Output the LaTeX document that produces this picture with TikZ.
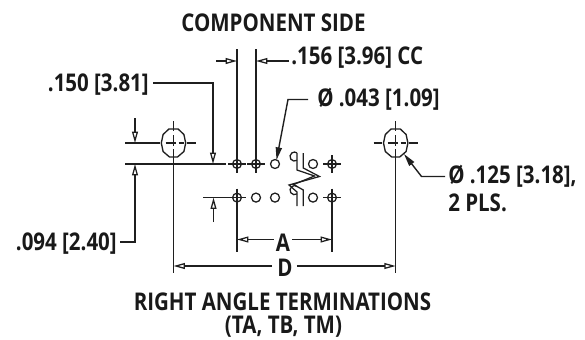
\documentclass[tikz,border=0pt]{standalone}
\usepackage{fontspec}
\setmainfont{Open Sans}[FakeStretch=0.84]
\usetikzlibrary{arrows.meta}
\tikzset{
 x=0.75pt,y=-0.75pt,
 dim/.style={line width=1.05pt,draw=black!88},
 thin line/.style={line width=0.95pt,draw=black!88},
 lab/.style={font=\fontsize{18.3}{20}\selectfont\bfseries,text=black!90,inner sep=0pt},
 hollow/.style={-{Triangle[open,length=8.5pt,width=4.4pt,line width=0.95pt]}},
 solid tip/.style={-{Triangle[length=9.5pt,width=4.6pt]}},
}
\newcommand{\padhole}[2]{%
 \draw[thin line] (#1,#2) circle[radius=4.4];
 \draw[thin line] (#1-9,#2)--(#1+9,#2) (#1,#2-9)--(#1,#2+9);}
\newcommand{\openhole}[2]{\draw[thin line] (#1,#2) circle[radius=4.5];}
\newcommand{\octhole}[2]{%
 \draw[line width=1pt,draw=black!88] (#1-4.6,#2-14)--(#1+4.6,#2-14)--(#1+10.4,#2-8.5)--(#1+12.2,#2)--(#1+10.4,#2+8.5)--(#1+4,#2+14)--(#1-4,#2+14)--(#1-10.4,#2+8.5)--(#1-12.2,#2)--(#1-10.4,#2-8.5)--cycle;
 \draw[thin line] (#1-22,#2)--(#1-14,#2) (#1-8,#2)--(#1+2,#2) (#1+5,#2)--(#1+10,#2) (#1+13,#2)--(#1+22,#2);
 \draw[thin line] (#1,#2-22)--(#1,#2-12) (#1,#2-8)--(#1,#2+3) (#1,#2+6)--(#1,#2+22);}
\begin{document}
\begin{tikzpicture}
\useasboundingbox (0,0) rectangle (585,339);
% text
\node[lab] (tTitle) at (273.5,22.5) {COMPONENT SIDE};
\node[lab,anchor=west] (t156) at (291,58) {.156 [3.96] CC};
\node[lab,anchor=east] (t150) at (149,85) {.150 [3.81]};
\node[lab,anchor=west] (t043) at (317,99.5) {Ø .043 [1.09]};
\node[lab,anchor=east] (t094) at (117,244) {.094 [2.40]};
\node[lab,anchor=west] (t125) at (448,176.5) {Ø .125 [3.18],};
\node[lab,anchor=west] (t2pls) at (448,203) {2 PLS.};
\node[lab] (tA) at (283,242.5) {A};
\node[lab] (tD) at (285,268) {D};
\node[lab] (tB1) at (282.5,302) {RIGHT ANGLE TERMINATIONS};
\node[lab] (tB2) at (283.5,327) {(TA, TB, TM)};
% holes
\octhole{173.5}{143}
\octhole{395.7}{143}
\padhole{237}{164}\padhole{256}{164}\openhole{275}{164}\openhole{313}{164}\padhole{332}{164}
\padhole{237}{197.6}\openhole{256}{197.6}\openhole{275}{197.6}\openhole{313}{197.6}\padhole{332}{197.6}
% cut-off holes
\draw[thin line] (297,160.3) arc[start angle=56,end angle=304,radius=4.5];
\draw[thin line] (297,193.9) arc[start angle=56,end angle=304,radius=4.5];
% break
\draw[thin line] (303.3,153)--(303.3,168)--(319.5,176.5)--(289,185)--(297,192)--(297,206);
\draw[thin line] (297,153)--(297,170)--(314.5,176)--(293.5,184.5)--(303.3,190)--(303.3,206);
% .156 dims
\draw[dim] (237,49)--(237,155) (256,49)--(256,155);
\draw[dim,hollow] (216,61)--(237,61);
\draw[dim,hollow] ([shift={(-2,3)}]t156.west) -- (256,61);
% .150
\draw[dim,hollow] ([shift={(4,-2)}]t150.east)  -- (213,83) -- (213,164);
\draw[dim] (203,164)--(226,164);
% .043
\draw[dim,solid tip] ([shift={(-9,0)}]t043.west) -- (288,99.5) -- (276.5,160);
% left height dims
\draw[dim] (125,143)--(155,143);
\draw[dim] (125,164)--(205,164);
\draw[dim,hollow] (135,118)--(135,143);
\draw[dim,hollow] ([shift={(3,-2)}]t094.east) -- (135,242) -- (135,164);
% row 2 dim
\draw[dim] (203,197.6)--(228,197.6);
\draw[dim,hollow] (213.5,222)--(213.5,197.6);
% A
\draw[dim] (237,207)--(237,251.5) (332,207)--(332,251.5);
\draw[dim,hollow] ([shift={(-2,-3)}]tA.west) -- (237,239.5);
\draw[dim,hollow] ([shift={(2,-3)}]tA.east) -- (332,239.5);
% D
\draw[dim] (173.5,165)--(173.5,273) (395.7,165)--(395.7,273);
\draw[dim,hollow] ([shift={(-5,-2)}]tD.west) -- (173.5,266);
\draw[dim,hollow] ([shift={(4,-2)}]tD.east) -- (395.7,266);
% .125
\draw[dim,solid tip] ([shift={(-3,0)}]t125.west) -- (421.5,176.5) -- (404,154);
\end{tikzpicture}
\end{document}
